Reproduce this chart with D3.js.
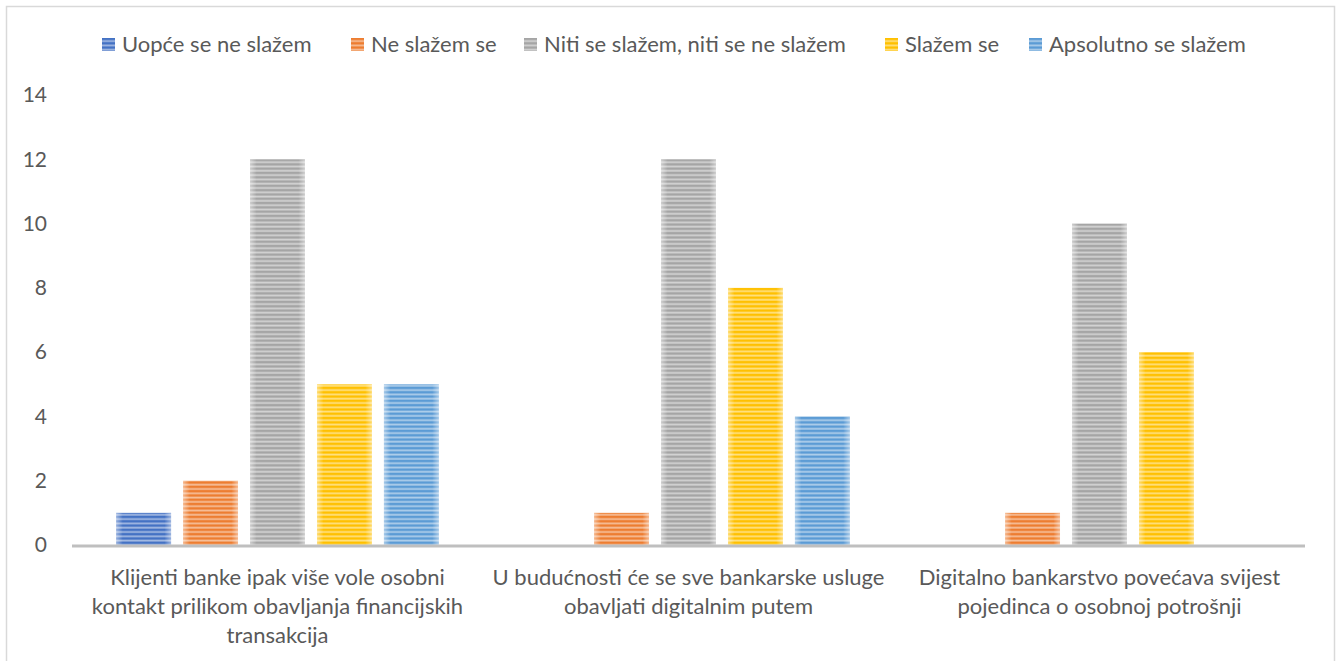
<!DOCTYPE html>
<html>
<head>
<meta charset="utf-8">
<script src="https://cdn.jsdelivr.net/npm/d3@7"></script>
<style>
  body { margin: 0; background: #fff; }
  text { font-family: Lato, "Noto Sans", sans-serif; fill: #595959; }
</style>
</head>
<body>
<svg id="chart"></svg>
<script>
// data
const categories = [
  ["Klijenti banke ipak više vole osobni", "kontakt prilikom obavljanja financijskih", "transakcija"],
  ["U budućnosti će se sve bankarske usluge", "obavljati digitalnim putem"],
  ["Digitalno bankarstvo povećava svijest", "pojedinca o osobnoj potrošnji"]
];
const seriesNames = ["Uopće se ne slažem", "Ne slažem se", "Niti se slažem, niti se ne slažem", "Slažem se", "Apsolutno se slažem"];
const seriesColors = ["#4472c4", "#ed7d31", "#a5a5a5", "#ffc000", "#5b9bd5"];
const values = [
  [1, 2, 12, 5, 5],
  [0, 1, 12, 8, 4],
  [0, 1, 10, 6, 0]
];
const yTicks = [0, 2, 4, 6, 8, 10, 12, 14];

const W = 1341, H = 661;
const margin = {top: 95, right: 36, bottom: 116, left: 72};

const svg = d3.select('#chart').attr('width', W).attr('height', H);

// outer border
svg.append('path')
  .attr('d', `M6.5,${H} V6.5 H1334.5 V${H}`)
  .attr('fill', 'none').attr('stroke', '#d9d9d9').attr('stroke-width', 1.5);

const defs = svg.append('defs');
seriesColors.forEach((c, i) => {
  const light = d3.interpolateRgb(c, '#ffffff')(0.5);
  const p = defs.append('pattern')
    .attr('id', `stripe-${i}`)
    .attr('patternUnits', 'userSpaceOnUse')
    .attr('width', 8).attr('height', 4.3);
  p.append('rect').attr('width', 8).attr('height', 4.3).attr('fill', c);
  p.append('rect').attr('y', 2.2).attr('width', 8).attr('height', 1.8).attr('fill', light);
});
const edge = defs.append('linearGradient').attr('id', 'edge');
[[0, 0.45], [0.12, 0], [0.88, 0], [1, 0.45]].forEach(([o, a]) => {
  edge.append('stop').attr('offset', o).attr('stop-color', '#fff').attr('stop-opacity', a);
});

const x0 = d3.scaleBand()
  .domain(d3.range(categories.length))
  .range([margin.left, W - margin.right]);

const x1 = d3.scaleBand()
  .domain(d3.range(seriesNames.length))
  .range([0, x0.bandwidth()])
  .paddingInner(0.18)
  .paddingOuter(0.66);

const y = d3.scaleLinear()
  .domain([0, 14])
  .range([545, margin.top]);

// y tick labels
const yAxis = d3.axisLeft(y).tickValues(yTicks).tickSize(0).tickPadding(0);
const yG = svg.append('g')
  .attr('transform', `translate(47,0)`)
  .call(yAxis);
yG.select('.domain').remove();
yG.selectAll('text')
  .attr('font-family', 'Lato, "Noto Sans", sans-serif')
  .attr('font-size', 21).attr('fill', '#595959');

// bars
const groups = svg.append('g').selectAll('g')
  .data(values)
  .join('g')
  .attr('transform', (d, i) => `translate(${x0(i)},0)`);

const bars = groups.selectAll('g')
  .data(d => d.map((v, s) => ({v, s})).filter(e => e.v > 0))
  .join('g');

bars.append('rect')
  .attr('x', d => x1(d.s))
  .attr('y', d => y(d.v))
  .attr('width', x1.bandwidth())
  .attr('height', d => y(0) - y(d.v))
  .attr('fill', d => `url(#stripe-${d.s})`);

bars.append('rect')
  .attr('x', d => x1(d.s))
  .attr('y', d => y(d.v))
  .attr('width', x1.bandwidth())
  .attr('height', d => y(0) - y(d.v))
  .attr('fill', 'url(#edge)');

// x axis line
svg.append('line')
  .attr('x1', margin.left).attr('x2', W - margin.right)
  .attr('y1', y(0) + 1).attr('y2', y(0) + 1)
  .attr('stroke', '#bfbfbf').attr('stroke-width', 3);

// category labels
svg.append('g').selectAll('text')
  .data(categories)
  .join('text')
  .attr('text-anchor', 'middle')
  .attr('font-size', 22)
  .attr('transform', (d, i) => `translate(${x0(i) + x0.bandwidth() / 2},585)`)
  .selectAll('tspan')
  .data(d => d)
  .join('tspan')
  .attr('x', 0)
  .attr('dy', (d, i) => i === 0 ? 0 : 29)
  .text(d => d);

// legend
const legendX = [102, 351, 524, 885, 1029];
const legend = svg.append('g').selectAll('g')
  .data(seriesNames)
  .join('g')
  .attr('transform', (d, i) => `translate(${legendX[i]},38)`);
legend.append('rect')
  .attr('width', 13).attr('height', 13)
  .attr('fill', (d, i) => `url(#stripe-${i})`);
legend.append('text')
  .attr('x', 20).attr('y', 14)
  .attr('font-size', 22)
  .text(d => d);
</script>
</body>
</html>
